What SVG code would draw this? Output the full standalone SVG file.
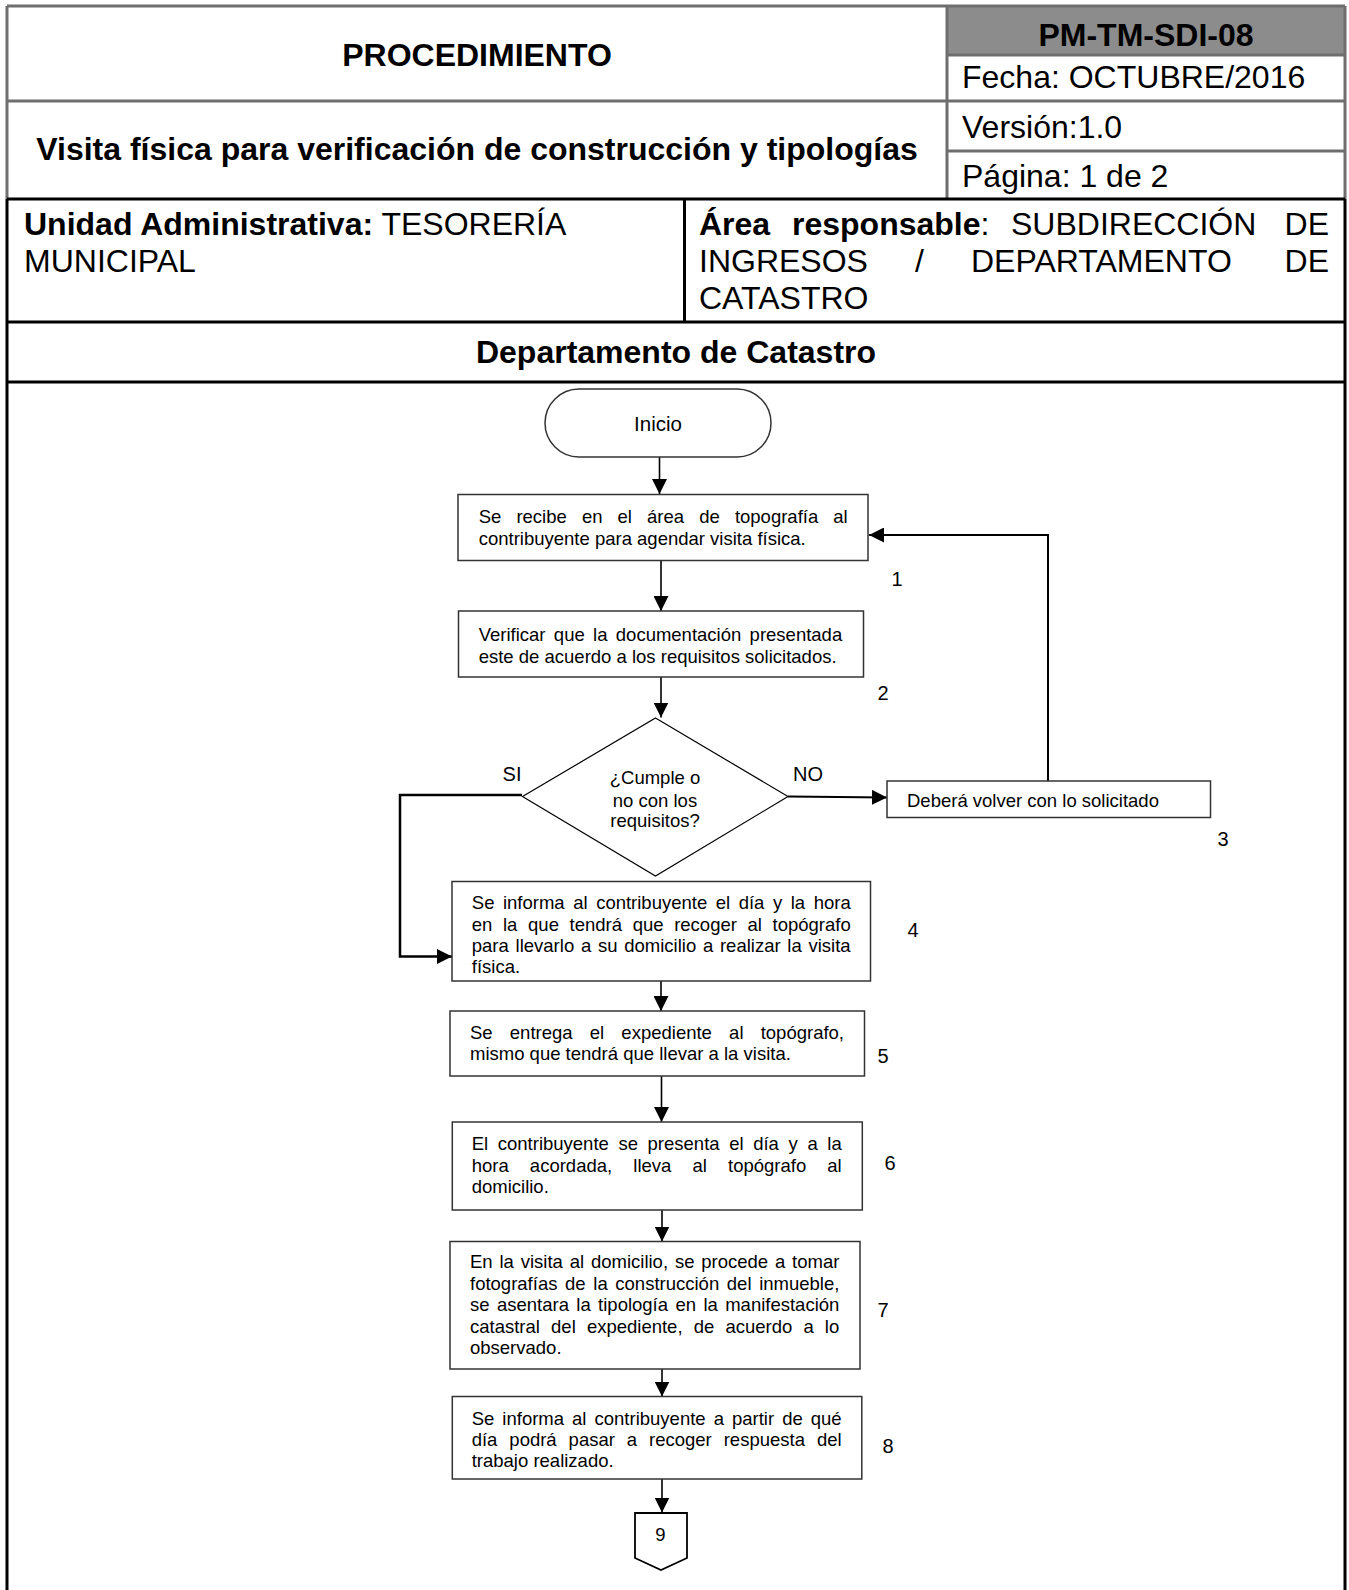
<svg xmlns="http://www.w3.org/2000/svg" width="1349" height="1590" viewBox="0 0 1349 1590">
<style>
text{font-family:"Liberation Sans",Arial,sans-serif;fill:#000}
.h{font-size:32px}
.b{font-weight:bold}
.t{font-size:18.5px}
.lbl{font-size:20px}
.box{fill:#fff;stroke:#333;stroke-width:1.5}
.conn{fill:none;stroke:#000;stroke-width:1.6}
.gl{stroke:#6e6e6e;stroke-width:3;fill:none}
.bl{stroke:#000;stroke-width:3;fill:none}
</style>
<defs>
<marker id="ah" viewBox="0 0 15 15" refX="15" refY="7.5" markerWidth="15" markerHeight="15" orient="auto" markerUnits="userSpaceOnUse"><path d="M0,0 L15,7.5 L0,15 z" fill="#000"/></marker>
</defs>
<rect width="1349" height="1590" fill="#fff"/>
<g id="header">
<rect x="947" y="6" width="398" height="49" fill="#8c8c8c"/>
<path class="gl" d="M7,6 H1345 M7,101 H1345 M947,55 H1345 M947,151 H1345 M947,6 V199 M7,6 V199 M1345,6 V199"/>
<path class="bl" d="M7,199 H1345 M7,322 H1345 M7,382 H1345 M684.5,199 V322 M7,199 V1590 M1345,199 V1590"/>
<text class="h b" x="477" y="65.5" text-anchor="middle">PROCEDIMIENTO</text>
<text class="h b" x="477" y="160" text-anchor="middle">Visita física para verificación de construcción y tipologías</text>
<text class="h b" x="1146" y="45.5" text-anchor="middle">PM-TM-SDI-08</text>
<text class="h" x="962" y="88">Fecha: OCTUBRE/2016</text>
<text class="h" x="962" y="137.5">Versión:1.0</text>
<text class="h" x="962" y="187">Página: 1 de 2</text>
<text class="h" x="24" y="235"><tspan class="b">Unidad Administrativa:</tspan> TESORERÍA</text>
<text class="h" x="24" y="272">MUNICIPAL</text>
<text class="h b" x="699" y="235">Área</text>
<text class="h" x="792" y="235"><tspan class="b">responsable</tspan>:</text>
<text class="h" x="1011" y="235">SUBDIRECCIÓN</text>
<text class="h" x="1329" y="235" text-anchor="end">DE</text>
<text class="h" x="699" y="272">INGRESOS</text>
<text class="h" x="915" y="272">/</text>
<text class="h" x="971" y="272">DEPARTAMENTO</text>
<text class="h" x="1329" y="272" text-anchor="end">DE</text>
<text class="h" x="699" y="308.5">CATASTRO</text>
<text class="h b" x="676" y="363" text-anchor="middle">Departamento de Catastro</text>
</g>
<g id="connectors">
<path class="conn" d="M659.5,457 V494" marker-end="url(#ah)"/>
<path class="conn" d="M661,560.5 V611" marker-end="url(#ah)"/>
<path class="conn" d="M661,677 V717.5" marker-end="url(#ah)"/>
<path class="conn" style="stroke-width:2" d="M788,796.5 L887,797.5" marker-end="url(#ah)"/>
<path class="conn" style="stroke-width:2" d="M1048,781 V535 H869" marker-end="url(#ah)"/>
<path class="conn" style="stroke-width:2.5" d="M522,795 H400 V956.5 H452" marker-end="url(#ah)"/>
<path class="conn" d="M661,981 V1011" marker-end="url(#ah)"/>
<path class="conn" d="M661.5,1076 V1122" marker-end="url(#ah)"/>
<path class="conn" d="M662,1202 V1241.5" marker-end="url(#ah)"/>
<path class="conn" d="M662,1369 V1396.5" marker-end="url(#ah)"/>
<path class="conn" d="M662,1477 V1512.5" marker-end="url(#ah)"/>
</g>
<g id="inicio">
<rect x="545" y="389" width="226" height="68" rx="34" ry="34" fill="#fff" stroke="#333" stroke-width="1.5"/>
<text x="658" y="430.5" font-size="20.5" text-anchor="middle">Inicio</text>
</g>
<g id="step1">
<rect class="box" x="458" y="494.5" width="410" height="66"/>
<text class="t" x="478.7" y="523" word-spacing="9.96">Se recibe en el área de topografía al</text>
<text class="t" x="478.7" y="545">contribuyente para agendar visita física.</text>
<text class="lbl" x="897" y="586" text-anchor="middle">1</text>
</g>
<g id="step2">
<rect class="box" x="458.5" y="611" width="405" height="66"/>
<text class="t" x="478.7" y="641" word-spacing="3.2">Verificar que la documentación presentada</text>
<text class="t" x="478.7" y="662.5">este de acuerdo a los requisitos solicitados.</text>
<text class="lbl" x="883" y="699.5" text-anchor="middle">2</text>
</g>
<g id="decision">
<polygon points="655.5,718 788,796.5 655.5,876 522.5,796.5" fill="#fff" stroke="#000" stroke-width="1.2"/>
<text class="t" x="655" y="784.3" text-anchor="middle">¿Cumple o</text>
<text class="t" x="655" y="806.5" text-anchor="middle">no con los</text>
<text class="t" x="655" y="826.5" text-anchor="middle">requisitos?</text>
<text class="lbl" x="512" y="781" text-anchor="middle">SI</text>
<text class="lbl" x="808" y="781" text-anchor="middle">NO</text>
</g>
<g id="step3">
<rect class="box" x="887" y="781" width="323.5" height="36.5"/>
<text class="t" x="907" y="807">Deberá volver con lo solicitado</text>
<text class="lbl" x="1223" y="846" text-anchor="middle">3</text>
</g>
<g id="step4">
<rect class="box" x="452" y="881.5" width="418.5" height="99.5"/>
<text class="t" x="471.8" y="909.3" word-spacing="3.4">Se informa al contribuyente el día y la hora</text>
<text class="t" x="471.8" y="930.7" word-spacing="5.5">en la que tendrá que recoger al topógrafo</text>
<text class="t" x="471.8" y="951.7" word-spacing="1.6">para llevarlo a su domicilio a realizar la visita</text>
<text class="t" x="471.8" y="972.5">física.</text>
<text class="lbl" x="913" y="937" text-anchor="middle">4</text>
</g>
<g id="step5">
<rect class="box" x="450" y="1011" width="414.5" height="65"/>
<text class="t" x="470" y="1038.5" word-spacing="12.06">Se entrega el expediente al topógrafo,</text>
<text class="t" x="470" y="1060">mismo que tendrá que llevar a la visita.</text>
<text class="lbl" x="883" y="1062.5" text-anchor="middle">5</text>
</g>
<g id="step6">
<rect class="box" x="452.3" y="1122" width="410" height="88"/>
<text class="t" x="471.7" y="1150" word-spacing="4.47">El contribuyente se presenta el día y a la</text>
<text class="t" x="471.7" y="1171.5" word-spacing="16">hora acordada, lleva al topógrafo al</text>
<text class="t" x="471.7" y="1193">domicilio.</text>
<text class="lbl" x="890" y="1170" text-anchor="middle">6</text>
</g>
<g id="step7">
<rect class="box" x="450" y="1241.5" width="410" height="127.5"/>
<text class="t" x="470" y="1268" word-spacing="1.7">En la visita al domicilio, se procede a tomar</text>
<text class="t" x="470" y="1289.5" word-spacing="2.5">fotografías de la construcción del inmueble,</text>
<text class="t" x="470" y="1311" word-spacing="2.25">se asentara la tipología en la manifestación</text>
<text class="t" x="470" y="1332.5" word-spacing="6">catastral del expediente, de acuerdo a lo</text>
<text class="t" x="470" y="1354">observado.</text>
<text class="lbl" x="883" y="1317" text-anchor="middle">7</text>
</g>
<g id="step8">
<rect class="box" x="452.3" y="1396.5" width="409.5" height="82.5"/>
<text class="t" x="471.7" y="1425" word-spacing="2.9">Se informa al contribuyente a partir de qué</text>
<text class="t" x="471.7" y="1446" word-spacing="6.8">día podrá pasar a recoger respuesta del</text>
<text class="t" x="471.7" y="1467.3">trabajo realizado.</text>
<text class="lbl" x="888" y="1453" text-anchor="middle">8</text>
</g>
<g id="connector9">
<polygon points="635,1513 687,1513 687,1558 661,1570 635,1558" fill="#fff" stroke="#000" stroke-width="1.8"/>
<text class="t" x="660.5" y="1541" text-anchor="middle">9</text>
</g>
</svg>
